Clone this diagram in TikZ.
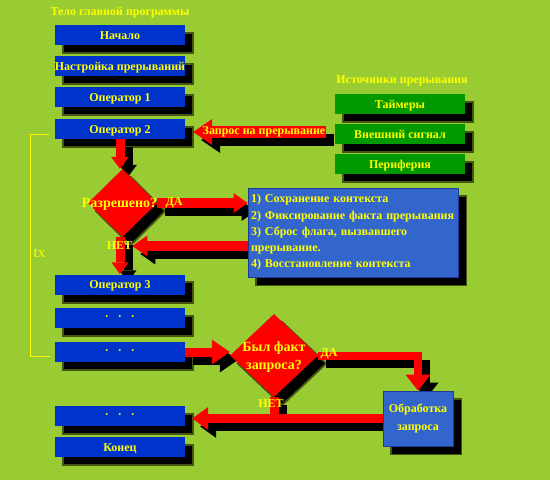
\documentclass[tikz,border=0pt]{standalone}
\usepackage{fontspec}
\setmainfont{Liberation Serif}
\usetikzlibrary{shapes.geometric,arrows.meta,calc}
\definecolor{bgc}{RGB}{153,204,51}
\definecolor{bluebox}{RGB}{0,51,204}
\definecolor{infobox}{RGB}{51,102,204}
\definecolor{infoedge}{RGB}{30,60,150}
\definecolor{greenbox}{RGB}{0,153,0}
\definecolor{txt}{RGB}{255,255,0}
\definecolor{arrred}{RGB}{255,0,0}
\definecolor{shedge}{RGB}{70,85,20}
\pgfdeclarelayer{bg}\pgfdeclarelayer{shad}\pgfdeclarelayer{arr}
\pgfsetlayers{bg,shad,arr,main}
\newcommand{\blockarr}[2]{%
  \begin{pgfonlayer}{shad}
    \begin{scope}[transform canvas={shift={(8pt,-8pt)}}]
      \draw[line join=miter,#1,draw=black] #2;
    \end{scope}
  \end{pgfonlayer}
  \begin{pgfonlayer}{arr}
    \draw[line join=miter,#1,draw=arrred] #2;
  \end{pgfonlayer}}
\tikzset{
  base/.style={text=txt, font=\bfseries\fontsize{12}{14}\selectfont, inner sep=0pt},
  opbox/.style={base, rectangle, fill=bluebox, minimum width=130pt, minimum height=20pt, text height=8pt, text depth=0pt},
  srcbox/.style={base, rectangle, fill=greenbox, minimum width=130pt, minimum height=20pt, text height=8pt, text depth=0pt},
  dec/.style={diamond, fill=arrred, inner sep=0pt},
  dectext/.style={base, font=\bfseries\fontsize{14}{18}\selectfont, align=center},
  lbl/.style={base},
  shadowfill/.style={fill=black, draw=shedge, line width=1.8pt},
}
\begin{document}
\begin{tikzpicture}[x=1pt,y=-1pt]
\useasboundingbox (0,0) rectangle (550,480);
\begin{pgfonlayer}{bg}
  \fill[bgc] (0,0) rectangle (550,480);
\end{pgfonlayer}

% titles
\node[lbl] (t1) at (120,12.5) {Тело главной программы};
\node[lbl] (t2) at (402,81) {Источники прерывания};

% main program boxes
\node[opbox] (b1) at (120,35) {Начало};
\node[opbox] (b2) at (120,66) {Настройка прерываний};
\node[opbox] (b3) at (120,97) {Оператор 1};
\node[opbox] (b4) at (120,129) {Оператор 2};
\node[opbox] (b5) at (120,284.5) {Оператор 3};
\node[opbox, text height=4pt] (b6) at (120,318) {·\hspace{9pt}·\hspace{9pt}·};
\node[opbox, text height=4pt] (b7) at (120,352) {·\hspace{9pt}·\hspace{9pt}·};
\node[opbox, text height=4pt] (b8) at (120,416) {·\hspace{9pt}·\hspace{9pt}·};
\node[opbox] (b9) at (120,447) {Конец};

% sources
\node[srcbox] (g1) at (400,104) {Таймеры};
\node[srcbox] (g2) at (400,134) {Внешний сигнал};
\node[srcbox] (g3) at (400,164) {Периферия};

% decisions
\node[dec, minimum width=69pt, minimum height=68pt] (d1) at (122.5,203) {};
\node[dectext] (d1t) at (119.5,204) {Разрешено?};
\node[dec, minimum width=88pt, minimum height=83pt] (d2) at (274,355.5) {};
\node[dectext] (d2t) at (274,357) {Был факт\\запроса?};

% info box
\node[base, fill=infobox, draw=infoedge, line width=0.8pt, minimum width=210pt,
      minimum height=89pt, text width=204pt, align=left, inner sep=3pt,
      font=\bfseries\fontsize{12}{16.3}\selectfont] (info) at (353,232.5)
  {1) Сохранение контекста\\2) Фиксирование факта прерывания\\3) Сброс флага, вызвавшего\\прерывание.\\4) Восстановление контекста};

\node[base, fill=infobox, draw=infoedge, line width=0.8pt, minimum width=70pt,
      minimum height=55pt, align=center, font=\bfseries\fontsize{12}{18}\selectfont]
  (proc) at (418,418.5) {Обработка\\запроса};

% request arrow label
\node[base, fill=arrred, minimum width=124pt, minimum height=12pt] (zapros) at (264,132) {Запрос на прерывание};

% labels
\node[lbl] (da1) at (174,203) {ДА};
\node[lbl] (net1) at (119.5,246) {НЕТ};
\node[lbl] (da2) at (329,354) {ДА};
\node[lbl] (net2) at (271,404) {НЕТ};
\node[text=txt, font=\fontsize{15}{16}\selectfont, inner sep=0pt] (tx) at (39.5,253) {tx};

% bracket
\coordinate (brt) at (49,134);
\coordinate (brb) at (50,356);
\draw[txt, line width=1pt] (brt) -- (30,134) -- (30,356) -- (brb);

% node shadows
\begin{pgfonlayer}{shad}
\foreach \n in {b1,b2,b3,b4,b5,b6,b7,b8,b9,g1,g2,g3,info,proc}
  \draw[shadowfill] ([shift={(8pt,-8pt)}]\n.south west) rectangle ([shift={(8pt,-8pt)}]\n.north east);
\foreach \n in {d1,d2}
  \draw[shadowfill] ([shift={(8pt,-8pt)}]\n.north) -- ([shift={(8pt,-8pt)}]\n.east)
     -- ([shift={(8pt,-8pt)}]\n.south) -- ([shift={(8pt,-8pt)}]\n.west) -- cycle;
\end{pgfonlayer}

% arrows
\blockarr{line width=12pt, shorten >=8pt, -{Triangle[length=19pt,width=26pt,line width=0pt]}}{(zapros.east) -- (zapros.east -| b4.east)}
\blockarr{line width=9pt, -{Triangle[length=12pt,width=18pt,line width=0pt]}}{(b4.south) -- (b4.south |- d1.north)}
\blockarr{line width=10pt, -{Triangle[length=14pt,width=20pt,line width=0pt]}}{(d1.east) -- (d1.east -| info.west)}
\blockarr{line width=10pt, -{Triangle[length=15pt,width=21pt,line width=0pt]}}{(info.west |- net1.east) -- (net1.east)}
\blockarr{line width=9pt, -{Triangle[length=12pt,width=17pt,line width=0pt]}}{(b5.north |- d1.south) -- (b5.north)}
\blockarr{line width=9pt, -{Triangle[length=18pt,width=25pt,line width=0pt]}}{(b7.east) -- (b7.east -| d2.west)}
\blockarr{line width=8pt, -{Triangle[length=16pt,width=25pt,line width=0pt]}}{(d2.east) -| (proc.north)}
\blockarr{line width=9pt, shorten >=7pt, -{Triangle[length=16pt,width=23pt,line width=0pt]}}{(proc.west) -- (proc.west -| b8.east)}
\blockarr{line width=9pt}{(d2.south) -- (d2.south |- proc.west)}
\end{tikzpicture}
\end{document}
